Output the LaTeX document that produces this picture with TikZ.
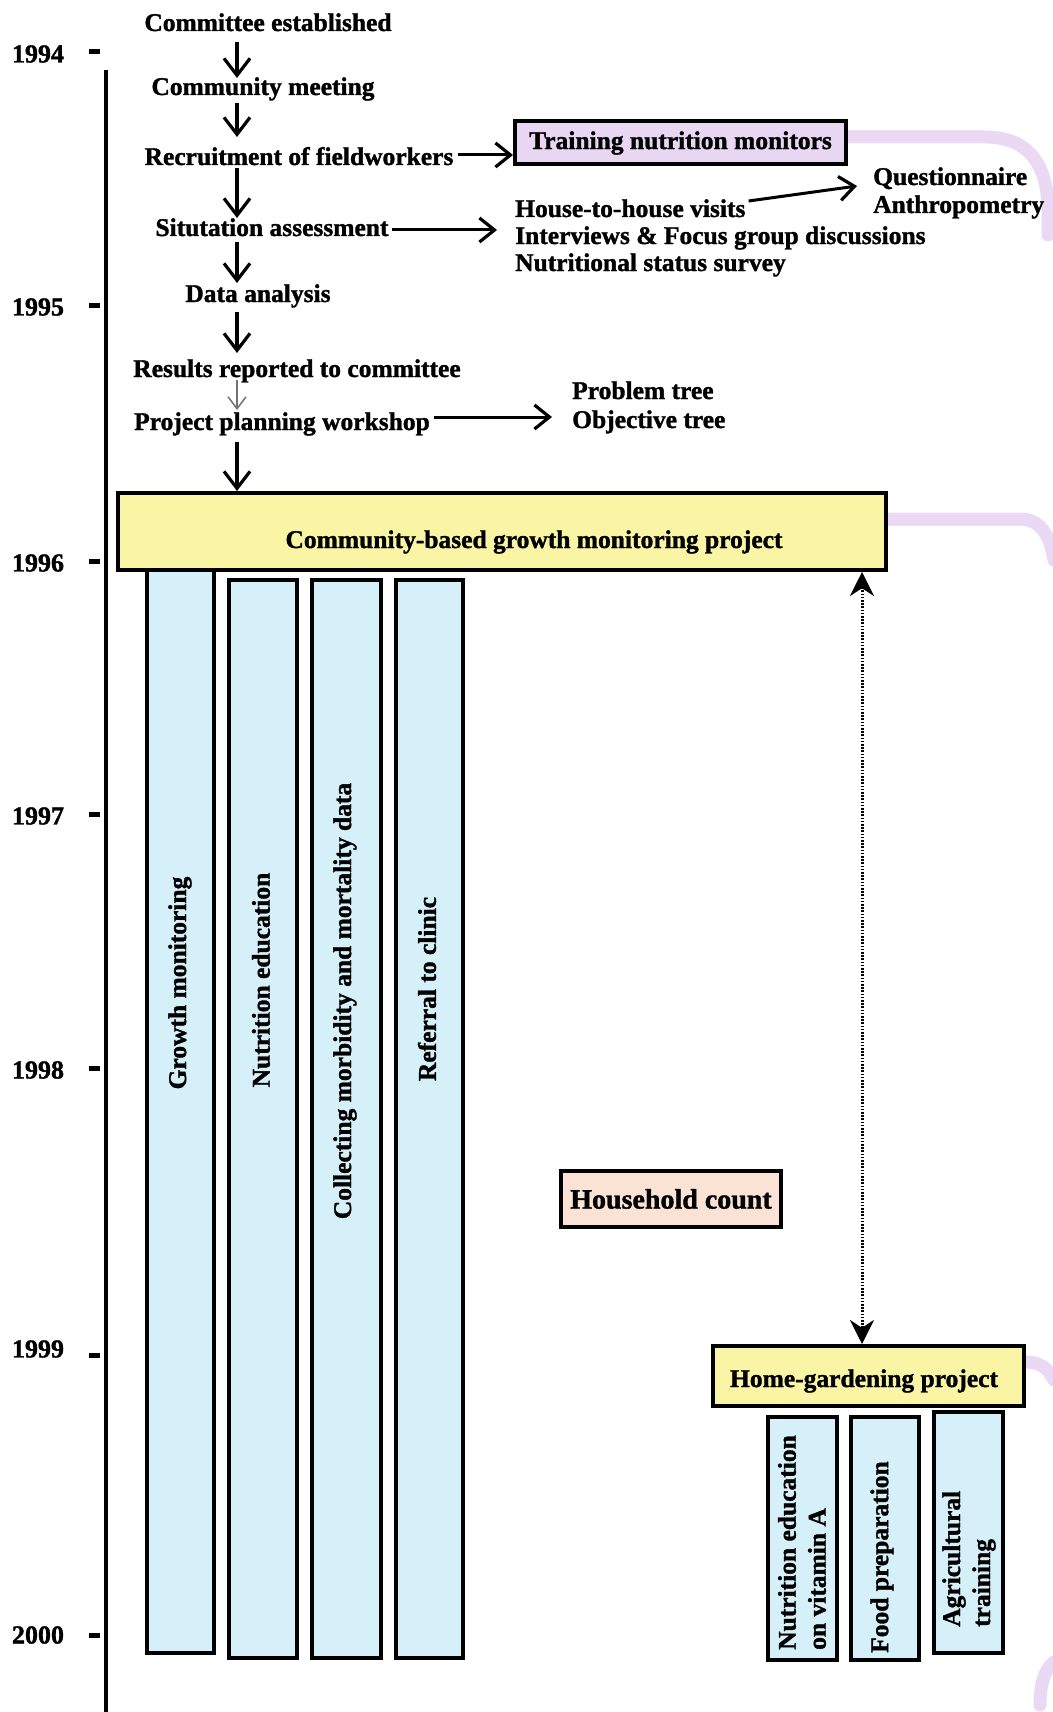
\documentclass[tikz,border=0pt]{standalone}
\usepackage{fontspec}
\setmainfont{Liberation Serif}[BoldFeatures={FakeBold=1.3}]
\usetikzlibrary{arrows.meta,calc}

\definecolor{projyellow}{RGB}{250,245,165}
\definecolor{barblue}{RGB}{214,240,249}
\definecolor{lavfill}{RGB}{232,214,243}
\definecolor{lavline}{RGB}{234,216,244}
\definecolor{peach}{RGB}{250,227,212}

\begin{document}
\begin{tikzpicture}[x=1pt,y=-1pt,
  every node/.style={font=\fontsize{25.5}{30}\selectfont\bfseries, inner sep=0pt},
  txt/.style={anchor=base},
  ltxt/.style={anchor=base west},
  yearlbl/.style={anchor=center, font=\fontsize{26}{30}\selectfont\bfseries},
  tick/.style={line width=5pt},
  axisline/.style={line width=4pt},
  boxed/.style={draw=black, line width=4pt, rectangle},
  bar/.style={boxed, fill=barblue},
  vlbl/.style={rotate=90, anchor=center},
  vlblb/.style={rotate=90, anchor=west, align=left},
  flow/.style={line width=3.2pt, -{Straight Barb[length=17pt,width=26pt,line width=3.2pt]}},
  thinflow/.style={line width=1.5pt, draw=black!55, -{Straight Barb[length=12pt,width=18pt,line width=1.5pt]}},
  sidearr/.style={line width=3pt, -{Straight Barb[length=15pt,width=24pt,line width=3.2pt]}},
  dotarr/.style={line width=3pt, dash pattern=on 1.6pt off 1.6pt,
    {Stealth[length=24pt,width=24pt]}-{Stealth[length=24pt,width=24pt]}},
  lavpath/.style={line width=13pt, draw=lavline, line cap=round},
]
\useasboundingbox (0,0) rectangle (1052,1712);
\fill[white] (0,0) rectangle (1052,1712);

% ---- time axis ----
\draw[axisline] (106,70) -- (106,1712);
\foreach \yr/\yy/\dy in {1994/52/2,1995/305/2,1996/561/2,1997/814/2,1998/1068/2,1999/1355/-6,2000/1635/0}{
  \draw[tick] (89,\yy) -- (100,\yy);
  \node[yearlbl] (y\yr) at (38,\yy+\dy) {\yr};
}

% ---- lavender links to the next column ----
\draw[lavpath] (846,137) -- (985,137) .. controls (1025,137) and (1046,160) .. (1048,205) -- (1048,235);
\draw[lavpath] (886,519) -- (1020,519) .. controls (1040,519) and (1050,535) .. (1054,560);
\draw[lavpath] (1025,1362) .. controls (1040,1362) and (1048,1368) .. (1054,1380);
\draw[lavpath] (1054,1662) .. controls (1044,1670) and (1040,1685) .. (1040,1705);

% ---- planning steps ----
\coordinate (ax) at (237,0);
\node[txt] (ce) at (268,31) {Committee established};
\node[txt] (cm) at (263,95) {Community meeting};
\node[txt] (rf) at (299,165) {Recruitment of fieldworkers};
\node[txt] (sa) at (272,236) {Situtation assessment};
\node[txt] (da) at (258,302) {Data analysis};
\node[txt] (rr) at (297,377) {Results reported to committee};
\node[txt] (pp) at (282,430) {Project planning workshop};

\draw[flow] ($(ax |- ce.base)+(0,11)$) -- ($(ax |- cm.base)+(0,-17)$);
\draw[flow] ($(ax |- cm.base)+(0,8)$) -- ($(ax |- rf.base)+(0,-28)$);
\draw[flow] ($(ax |- rf.base)+(0,3)$) -- ($(ax |- sa.base)+(0,-18)$);
\draw[flow] ($(ax |- sa.base)+(0,6)$) -- ($(ax |- da.base)+(0,-19)$);
\draw[flow] ($(ax |- da.base)+(0,10)$) -- ($(ax |- rr.base)+(0,-24)$);
\draw[thinflow] ($(ax |- rr.base)+(0,3)$) -- ($(ax |- pp.base)+(0,-20)$);

% ---- training and assessment details ----
\node[boxed, fill=lavfill, minimum width=331pt, minimum height=43pt] (train) at (680.5,143) {Training nutrition monitors};
\draw[sidearr] ($(rf.base east)+(4,-10)$) -- ($(rf.base east -| train.west)+(0,-10)$);

\node[ltxt] (hv) at (515,217) {House-to-house visits};
\node[ltxt] (ifg) at (515,244) {Interviews \& Focus group discussions};
\node[ltxt] (nss) at (515,271) {Nutritional status survey};
\node[ltxt] (qn) at (873,185) {Questionnaire};
\node[ltxt] (an) at (873,213) {Anthropometry};
\draw[sidearr] ($(sa.base east)+(3,-6)$) -- ($(ifg.base west)+(-18,-14)$);
\draw[sidearr] ($(hv.base east)+(3,-16)$) -- ($(qn.base west)+(-16,1)$);

\node[ltxt] (pt) at (572,399) {Problem tree};
\node[ltxt] (ot) at (572,428) {Objective tree};
\draw[sidearr] ($(pp.base east)+(4,-13)$) -- ($(ot.base west)+(-20,-11)$);

% ---- growth monitoring project ----
\node[boxed, fill=projyellow, minimum width=768pt, minimum height=77pt] (proj) at (502,531.5) {};
\node[txt] (projtxt) at (534,548) {Community-based growth monitoring project};
\draw[flow] ($(ax |- pp.base)+(0,12)$) -- (ax |- proj.north);

\node[bar, minimum width=67pt, minimum height=1083pt] (gm) at (180.5,1111.5) {};
\node[bar, minimum width=68pt, minimum height=1078pt] (ne) at (263,1119) {};
\node[bar, minimum width=69pt, minimum height=1078pt] (cmd) at (346.5,1119) {};
\node[bar, minimum width=67pt, minimum height=1078pt] (rc) at (429.5,1119) {};
\node[vlbl] (gmtxt) at (180,983) {Growth monitoring};
\node[vlbl] (netxt) at (261,980) {Nutrition education};
\node[vlbl] (cmdtxt) at (345,1001) {Collecting morbidity and mortality data};
\node[vlbl] (rctxt) at (427,989) {Referral to clinic};

% ---- household count ----
\node[boxed, fill=peach, minimum width=220pt, minimum height=56pt,
  font=\fontsize{28}{32}\selectfont\bfseries] (hh) at (671,1199) {Household count};

% ---- home-gardening project ----
\node[boxed, fill=projyellow, minimum width=311pt, minimum height=60pt] (home) at (868.5,1376) {};
\node[txt] (hometxt) at (864,1387) {Home-gardening project};
\coordinate (dx) at (862,0);
\draw[dotarr] (dx |- proj.south) -- (dx |- home.north);

\node[bar, minimum width=69pt, minimum height=243pt] (va) at (802.5,1538.5) {};
\node[bar, minimum width=68pt, minimum height=243pt] (fp) at (885,1538.5) {};
\node[bar, minimum width=69pt, minimum height=241pt] (at) at (968.5,1532.5) {};
\node[vlblb] (vatxt) at (802,1650) {Nutrition education\\on vitamin A};
\node[vlblb] (fptxt) at (882,1653) {Food preparation};
\node[vlblb] (attxt) at (969,1627) {Agricultural\\training};
\end{tikzpicture}
\end{document}
